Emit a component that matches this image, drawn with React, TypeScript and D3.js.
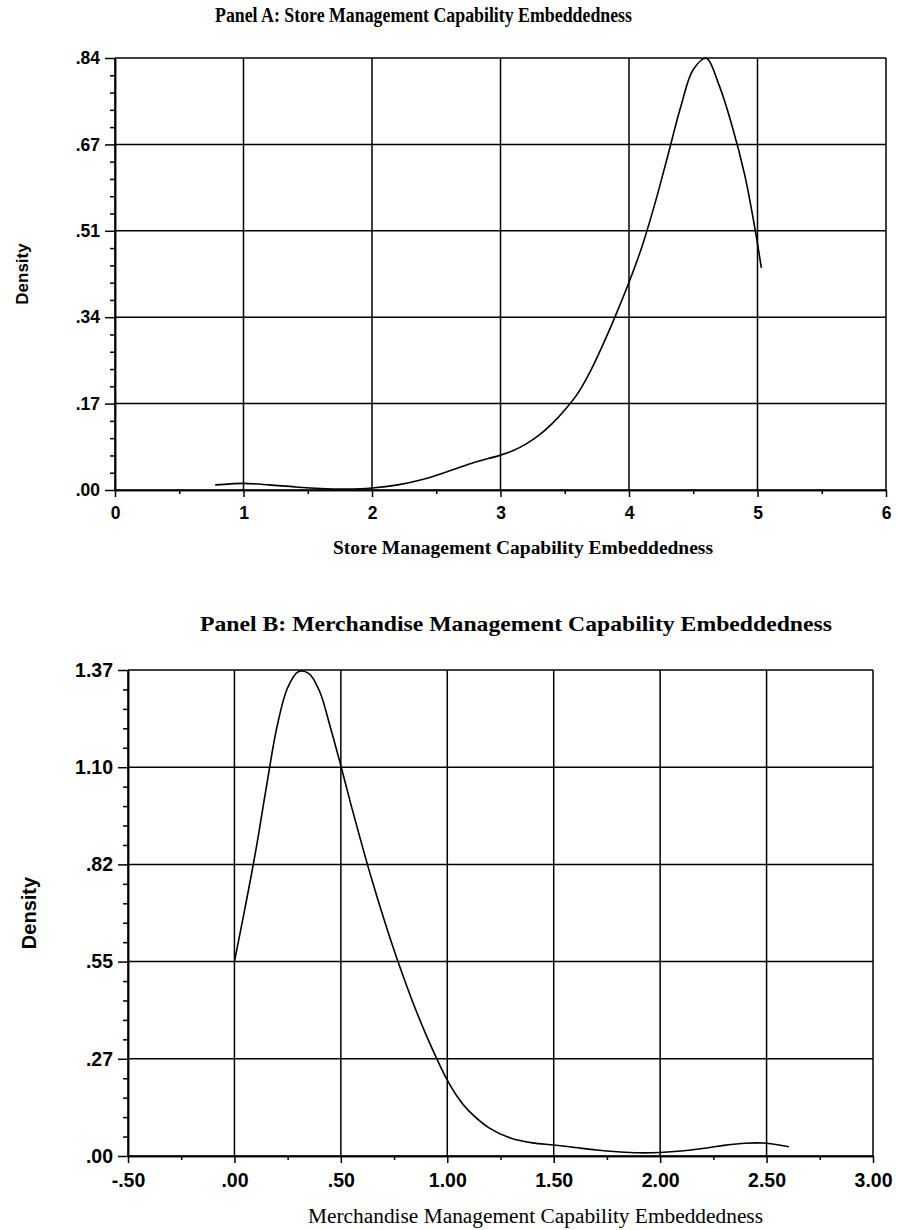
import React, { useRef, useEffect } from "react";
import * as d3 from "d3";

// Panel A: store management capability embeddedness (kernel density)
const aX = [0.78, 0.9, 1.0, 1.2, 1.4, 1.6, 1.8, 2.0, 2.2, 2.4, 2.6, 2.8, 3.0, 3.1, 3.2, 3.3, 3.4, 3.5, 3.6, 3.7, 3.8, 3.9, 4.0, 4.1, 4.2, 4.3, 4.4, 4.5, 4.6, 4.7, 4.8, 4.9, 4.98, 5.03];
const aDensity = [0.01, 0.012, 0.013, 0.01, 0.006, 0.003, 0.002, 0.004, 0.01, 0.021, 0.037, 0.054, 0.068, 0.077, 0.09, 0.107, 0.129, 0.156, 0.188, 0.232, 0.285, 0.343, 0.405, 0.474, 0.557, 0.65, 0.745, 0.82, 0.842, 0.79, 0.712, 0.615, 0.51, 0.433];
const aXTicks = [0, 1, 2, 3, 4, 5, 6];
const aXTickLabels = ["0", "1", "2", "3", "4", "5", "6"];
const aYTicks = [0, 0.1685, 0.337, 0.5055, 0.674, 0.8425];
const aYTickLabels = [".00", ".17", ".34", ".51", ".67", ".84"];

// Panel B: merchandise management capability embeddedness
const bX = [0, 0.05, 0.1, 0.15, 0.2, 0.25, 0.3, 0.35, 0.4, 0.45, 0.5, 0.55, 0.6, 0.65, 0.7, 0.75, 0.8, 0.85, 0.9, 0.95, 1.0, 1.05, 1.1, 1.2, 1.3, 1.4, 1.5, 1.6, 1.7, 1.8, 1.9, 2.0, 2.1, 2.2, 2.3, 2.4, 2.5, 2.605];
const bDensity = [0.548, 0.7, 0.86, 1.04, 1.21, 1.32, 1.365, 1.36, 1.31, 1.21, 1.1, 0.985, 0.875, 0.77, 0.672, 0.58, 0.495, 0.415, 0.342, 0.275, 0.214, 0.165, 0.128, 0.078, 0.05, 0.037, 0.031, 0.024, 0.017, 0.012, 0.009, 0.01, 0.014, 0.021, 0.03, 0.036, 0.036, 0.026];
const bXTicks = [-0.5, 0, 0.5, 1.0, 1.5, 2.0, 2.5, 3.0];
const bXTickLabels = ["-.50", ".00", ".50", "1.00", "1.50", "2.00", "2.50", "3.00"];
const bYTicks = [0, 0.274, 0.548, 0.822, 1.096, 1.37];
const bYTickLabels = [".00", ".27", ".55", ".82", "1.10", "1.37"];

const SANS = "'Liberation Sans', Arial, sans-serif";
const SERIF = "'Liberation Serif', 'Times New Roman', serif";

function midpoints(ticks, n) {
  const out = [];
  for (let i = 0; i < ticks.length - 1; i++) {
    for (let k = 1; k < n; k++) out.push(ticks[i] + ((ticks[i + 1] - ticks[i]) * k) / n);
  }
  return out;
}

function drawPanel(svg, p) {
  const x = d3.scaleLinear().domain([p.xTicks[0], p.xTicks[p.xTicks.length - 1]]).range([p.left, p.right]);
  const y = d3.scaleLinear().domain([0, p.yTicks[p.yTicks.length - 1]]).range([p.bottom, p.top]);
  const g = svg.append("g");

  // grid
  g.selectAll(".hgrid")
    .data(p.yTicks)
    .enter()
    .append("line")
    .attr("x1", p.left)
    .attr("x2", p.right)
    .attr("y1", (d) => y(d))
    .attr("y2", (d) => y(d))
    .attr("stroke", "#000")
    .attr("stroke-width", 1.5);
  g.selectAll(".vgrid")
    .data(p.xTicks)
    .enter()
    .append("line")
    .attr("x1", (d) => x(d))
    .attr("x2", (d) => x(d))
    .attr("y1", p.top)
    .attr("y2", p.bottom)
    .attr("stroke", "#000")
    .attr("stroke-width", 1.5);

  // y axis
  const yAxis = g
    .append("g")
    .attr("transform", `translate(${p.left},0)`)
    .call(d3.axisLeft(y).tickValues(p.yTicks).tickSize(10).tickSizeOuter(0).tickPadding(5).tickFormat((d, i) => p.yLabels[i]));
  g.append("g")
    .attr("transform", `translate(${p.left},0)`)
    .call(d3.axisLeft(y).tickValues(midpoints(p.yTicks, 5)).tickSize(5).tickSizeOuter(0).tickFormat(""));

  // x axis
  const xAxis = g
    .append("g")
    .attr("transform", `translate(0,${p.bottom})`)
    .call(d3.axisBottom(x).tickValues(p.xTicks).tickSize(7).tickSizeOuter(0).tickPadding(p.xPad).tickFormat((d, i) => p.xLabels[i]));
  g.append("g")
    .attr("transform", `translate(0,${p.bottom})`)
    .call(d3.axisBottom(x).tickValues(midpoints(p.xTicks, p.xMinor)).tickSize(4).tickSizeOuter(0).tickFormat(""));

  g.selectAll(".domain").attr("stroke", "#000").attr("stroke-width", 1.5);
  g.selectAll(".tick line").attr("stroke", "#000").attr("stroke-width", 1.5);
  [xAxis, yAxis].forEach((a) =>
    a.selectAll("text").attr("fill", "#000").style("font-family", SANS).style("font-weight", "bold").style("font-size", p.tickFont + "px")
  );

  const line = d3
    .line()
    .x((d) => x(d[0]))
    .y((d) => y(d[1]))
    .curve(d3.curveCatmullRom.alpha(0.5));
  g.append("path")
    .datum(p.xs.map((v, i) => [v, p.ys[i]]))
    .attr("fill", "none")
    .attr("stroke", "#000")
    .attr("stroke-width", 1.6)
    .attr("d", line);

  // titles
  g.append("text")
    .attr("x", p.titleX)
    .attr("y", p.titleY)
    .attr("textLength", p.titleLen)
    .attr("lengthAdjust", "spacingAndGlyphs")
    .style("font-family", SERIF)
    .style("font-weight", "bold")
    .style("font-size", p.titleFont + "px")
    .text(p.title);
  g.append("text")
    .attr("x", p.xLabelX)
    .attr("y", p.xLabelY)
    .attr("textLength", p.xLabelLen)
    .attr("lengthAdjust", "spacingAndGlyphs")
    .style("font-family", SERIF)
    .style("font-weight", p.xLabelWeight)
    .style("font-size", p.xLabelFont + "px")
    .text(p.xLabel);
  g.append("text")
    .attr("transform", `translate(${p.yLabelX},${(p.top + p.bottom) / 2}) rotate(-90)`)
    .attr("text-anchor", "middle")
    .style("font-family", SANS)
    .style("font-weight", "bold")
    .style("font-size", p.yLabelFont + "px")
    .text("Density");
}

export default function App() {
  const svgRef = useRef(null);

  useEffect(() => {
    const svg = d3.select(svgRef.current);
    svg.selectAll("*").remove();

    drawPanel(svg, {
      xs: aX, ys: aDensity,
      xTicks: aXTicks, xLabels: aXTickLabels, yTicks: aYTicks, yLabels: aYTickLabels,
      left: 115, right: 886, top: 58, bottom: 490, xMinor: 2, tickFont: 17.5, xPad: 10,
      title: "Panel A: Store Management Capability Embeddedness",
      titleX: 215, titleY: 22, titleLen: 417, titleFont: 20.5,
      xLabel: "Store Management Capability Embeddedness",
      xLabelX: 333, xLabelY: 554, xLabelLen: 380, xLabelFont: 18, xLabelWeight: "bold",
      yLabelX: 28, yLabelFont: 17,
    });

    drawPanel(svg, {
      xs: bX, ys: bDensity,
      xTicks: bXTicks, xLabels: bXTickLabels, yTicks: bYTicks, yLabels: bYTickLabels,
      left: 128, right: 873, top: 670, bottom: 1156, xMinor: 2, tickFont: 19.5, xPad: 10,
      title: "Panel B: Merchandise Management Capability Embeddedness",
      titleX: 200, titleY: 631, titleLen: 632, titleFont: 22,
      xLabel: "Merchandise Management Capability Embeddedness",
      xLabelX: 308, xLabelY: 1223, xLabelLen: 455, xLabelFont: 20, xLabelWeight: "normal",
      yLabelX: 36, yLabelFont: 20,
    });
  }, []);

  return (
    <svg
      ref={svgRef}
      width={898}
      height={1230}
      style={{ position: "absolute", left: 0, top: 0, background: "#fff" }}
    />
  );
}
